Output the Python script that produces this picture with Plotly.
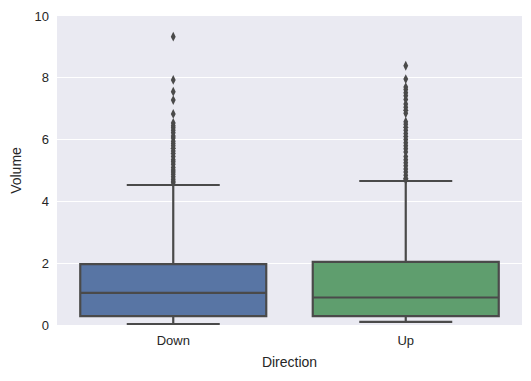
import plotly.graph_objects as go

categories = ["Down", "Up"]
q1 = [0.29, 0.29]
median = [1.04, 0.89]
q3 = [1.97, 2.04]
lower_whisker = [0.03, 0.10]
upper_whisker = [4.53, 4.66]
box_colors = ["#5875A4", "#5F9E6E"]

down_outliers = [9.33, 7.93, 7.55, 7.28, 6.83, 6.54, 6.45, 6.38, 6.30, 6.22, 6.12, 6.05,
                 5.95, 5.87, 5.80, 5.72, 5.63, 5.55, 5.45, 5.35, 5.28, 5.20, 5.10, 5.02,
                 4.95, 4.88, 4.80, 4.72, 4.65, 4.60]
up_outliers = [8.39, 7.96, 7.70, 7.62, 7.52, 7.42, 7.30, 7.15, 7.05, 6.95, 6.85, 6.58,
               6.50, 6.40, 6.30, 6.20, 6.10, 6.00, 5.90, 5.80, 5.70, 5.60, 5.45, 5.35,
               5.25, 5.15, 5.05, 4.95, 4.85, 4.75, 4.70]
outliers = [down_outliers, up_outliers]

line_color = "#4A4A4A"
font_family = "Liberation Sans, Arial, sans-serif"

fig = go.Figure()
for i, cat in enumerate(categories):
    fig.add_trace(go.Box(
        x=[cat], q1=[q1[i]], median=[median[i]], q3=[q3[i]],
        lowerfence=[lower_whisker[i]], upperfence=[upper_whisker[i]],
        fillcolor=box_colors[i], line=dict(color=line_color, width=2.2),
        width=0.8, whiskerwidth=0.5, boxpoints=False, showlegend=False,
        hoverinfo="skip",
    ))
    fig.add_trace(go.Scatter(
        x=[cat] * len(outliers[i]), y=outliers[i], mode="markers",
        marker=dict(symbol="diamond-tall", size=7, color=line_color),
        showlegend=False, hoverinfo="skip",
    ))

# The page body has an 8px default margin, so the figure is sized to fit inside it.
fig.update_layout(
    width=523, height=373,
    margin=dict(l=49, r=9, t=8, b=56),
    paper_bgcolor="white", plot_bgcolor="#EAEAF2",
    font=dict(family=font_family, size=13, color="#262626"),
    xaxis=dict(
        type="category", categoryorder="array", categoryarray=categories,
        range=[-0.5, 1.5], showgrid=False, zeroline=False, showline=False,
        ticks="", ticklabelstandoff=6, automargin=False,
        title=dict(text="Direction", font=dict(size=14), standoff=10),
    ),
    yaxis=dict(
        range=[0, 10], tickvals=[0, 2, 4, 6, 8, 10],
        showgrid=True, gridcolor="white", gridwidth=1.3,
        zeroline=False, showline=False, ticks="", ticklabelstandoff=7,
        automargin=False,
        title=dict(text="Volume", font=dict(size=14), standoff=10),
    ),
)

fig.write_html("out.html")
